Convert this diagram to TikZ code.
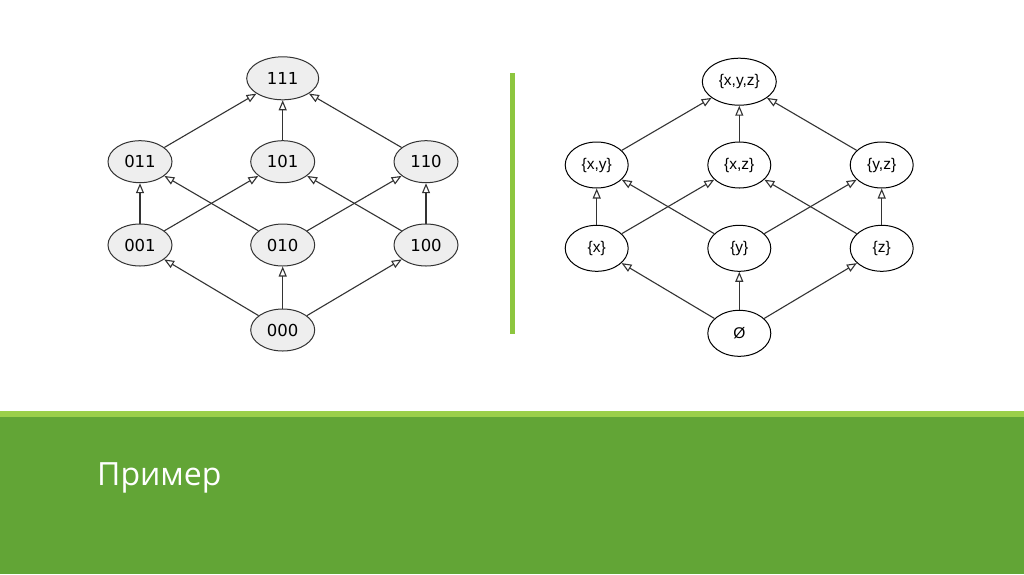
\documentclass[tikz,border=0pt]{standalone}
\usepackage{fontspec}
\setmainfont{Liberation Sans}
\newfontfamily\leftfont{DejaVu Sans}
\newfontfamily\titlefont{Open Sans}
\usetikzlibrary{shapes.geometric,arrows.meta}
\definecolor{darkgreen}{HTML}{62A536}
\definecolor{lightgreen}{HTML}{9BCF4A}
\definecolor{vgreen}{HTML}{8DC63F}
\definecolor{nodegray}{HTML}{EEEEEE}
\tikzset{
  lnode/.style={ellipse,draw=black!80,line width=1pt,fill=nodegray,minimum width=64pt,minimum height=42pt,inner sep=0pt,font=\leftfont\fontsize{16.5}{16.5}\selectfont},
  rnode/.style={ellipse,draw=black,line width=1pt,fill=white,minimum width=63pt,minimum height=46pt,inner sep=0pt,font=\fontsize{15.5}{15.5}\selectfont},
  edge/.style={draw=black!80,line width=1.1pt,-{Triangle[open,length=10pt,width=8pt]}}
}
\begin{document}
\begin{tikzpicture}[x=1pt,y=-1pt]
\fill[white] (0,0) rectangle (1024,574);
\useasboundingbox (0,0) rectangle (1024,574);
% bottom band
\fill[lightgreen] (0,411) rectangle (1024,417);
\fill[darkgreen] (0,417) rectangle (1024,574);
\node[anchor=base west,inner sep=0pt,text=white,font=\titlefont\fontsize{32}{32}\selectfont] (title) at (97,485) {Пример};
% separator
\fill[vgreen] (509.5,72.5) rectangle (514.5,334);
% left lattice
\node[lnode,minimum width=72pt,minimum height=43pt] (l111) at (282.7,78.3) {111};
\node[lnode] (l011) at (140,161.7) {011};
\node[lnode] (l101) at (282.7,161.7) {101};
\node[lnode] (l110) at (426,161.7) {110};
\node[lnode] (l001) at (140,245) {001};
\node[lnode] (l010) at (282.7,245) {010};
\node[lnode] (l100) at (426,245) {100};
\node[lnode] (l000) at (282.7,330) {000};
\draw[edge] (l000) -- (l001);
\draw[edge] (l000) -- (l010);
\draw[edge] (l000) -- (l100);
\draw[edge] (l001) -- (l011);
\draw[edge] (l001) -- (l101);
\draw[edge] (l010) -- (l011);
\draw[edge] (l010) -- (l110);
\draw[edge] (l100) -- (l101);
\draw[edge] (l100) -- (l110);
\draw[edge] (l011) -- (l111);
\draw[edge] (l101) -- (l111);
\draw[edge] (l110) -- (l111);
% right lattice
\node[rnode,minimum width=74pt,minimum height=47pt] (rxyz) at (739.3,81.7) {\{x,y,z\}};
\node[rnode] (rxy) at (596.7,165) {\{x,y\}};
\node[rnode] (rxz) at (739.3,165) {\{x,z\}};
\node[rnode] (ryz) at (881.7,165) {\{y,z\}};
\node[rnode] (rx) at (596.7,248.3) {\{x\}};
\node[rnode] (ry) at (739.3,248.3) {\{y\}};
\node[rnode] (rz) at (881.7,248.3) {\{z\}};
\node[rnode] (re) at (739.3,333.3) {Ø};
\draw[edge] (re) -- (rx);
\draw[edge] (re) -- (ry);
\draw[edge] (re) -- (rz);
\draw[edge] (rx) -- (rxy);
\draw[edge] (rx) -- (rxz);
\draw[edge] (ry) -- (rxy);
\draw[edge] (ry) -- (ryz);
\draw[edge] (rz) -- (rxz);
\draw[edge] (rz) -- (ryz);
\draw[edge] (rxy) -- (rxyz);
\draw[edge] (rxz) -- (rxyz);
\draw[edge] (ryz) -- (rxyz);
\end{tikzpicture}
\end{document}
